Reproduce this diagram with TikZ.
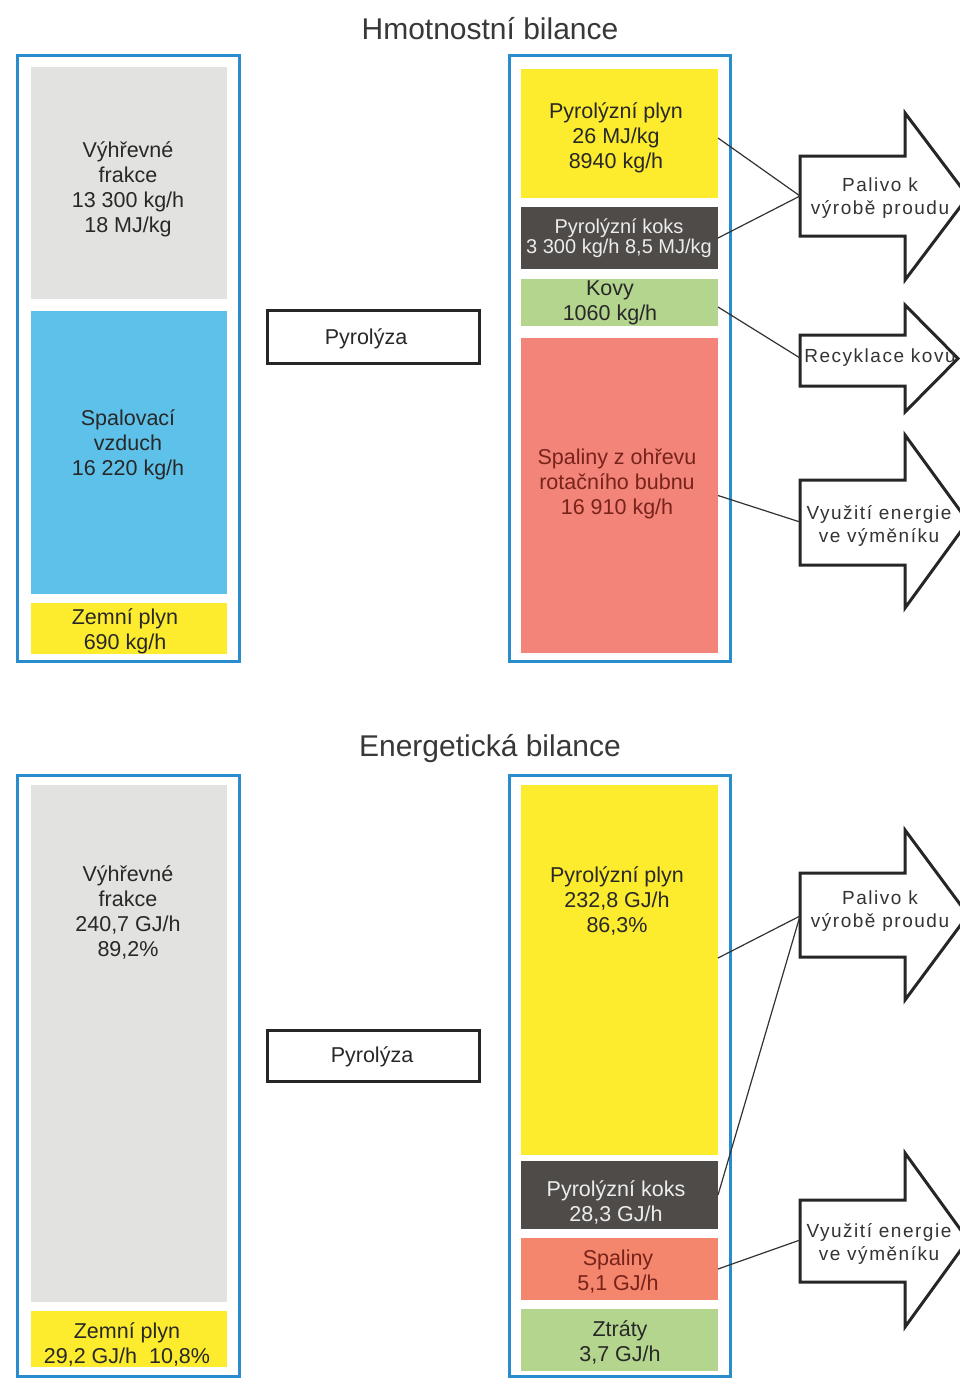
\documentclass[tikz,border=0pt]{standalone}
\usepackage{fontspec}
\setmainfont{Liberation Sans}
\newfontfamily\arrfont[LetterSpace=8]{Liberation Sans}
\usetikzlibrary{fit}
\definecolor{cframe}{RGB}{40,140,205}
\definecolor{cgray}{RGB}{226,226,224}
\definecolor{cblue}{RGB}{94,193,234}
\definecolor{cyel}{RGB}{253,235,45}
\definecolor{cdark}{RGB}{79,75,72}
\definecolor{cgreen}{RGB}{180,213,142}
\definecolor{cred}{RGB}{242,132,122}
\definecolor{cred2}{RGB}{243,134,108}
\definecolor{ctext}{RGB}{40,40,40}
\definecolor{credt}{RGB}{120,35,25}
\definecolor{clight}{RGB}{236,236,236}
\definecolor{cline}{RGB}{50,50,50}
\tikzset{
  seg/.style={inner sep=0pt, outer sep=0pt, draw=none},
  frame/.style={inner sep=0pt, outer sep=0pt, draw=cframe, line width=3pt},
  procbox/.style={inner sep=0pt, outer sep=0pt, draw=black!85, line width=3pt, fill=white},
  txt/.style={align=center, inner sep=0pt, text=ctext, font=\fontsize{21.5}{25}\selectfont},
  smalltxt/.style={align=center, inner sep=0pt, font=\fontsize{20}{20}\selectfont},
  title/.style={inner sep=0pt, text=black!78, font=\fontsize{30}{35}\selectfont},
  arr/.style={draw=black!85, line width=3pt, fill=white, line join=miter},
  arrtxt/.style={align=center, inner sep=0pt, text=black!80, font=\arrfont\fontsize{19}{23}\selectfont},
  conn/.style={draw=cline, line width=1.2pt}
}
\begin{document}
\begin{tikzpicture}[x=1pt,y=-1pt]
\useasboundingbox (0,0) rectangle (960,1378);
\clip (0,0) rectangle (960,1378);
\fill[white] (0,0) rectangle (960,1378);

% ---------- Hmotnostni bilance ----------
\node[title] (t1) at (490,29) {Hmotnostní bilance};

\node[frame, fit={(17,56) (239,661)}] (fl1) {};
\node[seg, fill=cgray, fit={(31,67) (227,299)}] (mg) {};
\node[seg, fill=cblue, fit={(31,311) (227,594)}] (mb) {};
\node[seg, fill=cyel, fit={(31,603) (227,654)}] (my) {};
\node[txt] (tmg) at (128,189) {Výhřevné\\frakce\\13 300 kg/h\\18 MJ/kg};
\node[txt] (tmb) at (128,445) {Spalovací\\vzduch\\16 220 kg/h};
\node[txt] (tmy) at (125,631) {Zemní plyn\\690 kg/h};

\node[procbox, fit={(267,310) (479,363)}] (pb1) {};
\node[txt] (tpb1) at (366,339) {Pyrolýza};

\node[frame, fit={(509,56) (730,661)}] (fr1) {};
\node[seg, fill=cyel, fit={(521,69) (718,198)}] (py) {};
\node[seg, fill=cdark, fit={(521,207) (718,269)}] (pk) {};
\node[seg, fill=cgreen, fit={(521,279) (718,326)}] (pg) {};
\node[seg, fill=cred, fit={(521,338) (718,653)}] (pr) {};
\node[txt] (tpy) at (616,138) {Pyrolýzní plyn\\26 MJ/kg\\8940 kg/h};
\node[smalltxt, text=clight] (tpk) at (619,238) {Pyrolýzní koks\\3 300 kg/h 8,5 MJ/kg};
\node[txt] (tpg) at (610,303) {Kovy\\1060 kg/h};
\node[txt, text=credt] (tpr) at (617,484) {Spaliny z ohřevu\\rotačního bubnu\\16 910 kg/h};

% arrows (top)
\draw[arr] (800,156) -- (905,156) -- (905,113) -- (968,196.5) -- (905,280) -- (905,236) -- (800,236) -- cycle;
\coordinate (a1in) at (800,196);
\node[arrtxt] (ta1) at (880,198) {Palivo k\\výrobě proudu};

\draw[arr] (800,335) -- (905,335) -- (905,305) -- (958,358.5) -- (905,412) -- (905,386) -- (800,386) -- cycle;
\coordinate (a2in) at (800,358);
\node[arrtxt] (ta2) at (880,358) {Recyklace kovu};

\draw[arr] (800,480) -- (905,480) -- (905,435) -- (968,521.5) -- (905,608) -- (905,565) -- (800,565) -- cycle;
\coordinate (a3in) at (800,522);
\node[arrtxt] (ta3) at (879,526) {Využití energie\\ve výměníku};

\draw[conn] ([yshift=-4.5pt]py.east) -- (a1in);
\draw[conn] (pk.east) -- (a1in);
\draw[conn] ([yshift=-4.5pt]pg.east) -- (a2in);
\draw[conn] (pr.east) -- (a3in);

% ---------- Energeticka bilance ----------
\node[title] (t2) at (490,749) {Energetická bilance};

\node[frame, fit={(17,775) (239,1376)}] (fl2) {};
\node[seg, fill=cgray, fit={(31,785) (227,1302)}] (eg) {};
\node[seg, fill=cyel, fit={(31,1311) (227,1367)}] (ey) {};
\node[txt] (teg) at (128,912) {Výhřevné\\frakce\\240,7 GJ/h\\89,2\%};
\node[txt] (tey) at (127,1344) {Zemní plyn\\29,2 GJ/h\ \ 10,8\%};

\node[procbox, fit={(267,1030) (479,1081)}] (pb2) {};
\node[txt] (tpb2) at (372,1057) {Pyrolýza};

\node[frame, fit={(509,775) (730,1376)}] (fr2) {};
\node[seg, fill=cyel, fit={(521,785) (718,1155)}] (ep) {};
\node[seg, fill=cdark, fit={(521,1161) (718,1229)}] (ek) {};
\node[seg, fill=cred2, fit={(521,1238) (718,1300)}] (es) {};
\node[seg, fill=cgreen, fit={(521,1309) (718,1371)}] (ez) {};
\node[txt] (tep) at (617,901) {Pyrolýzní plyn\\232,8 GJ/h\\86,3\%};
\node[txt, text=clight] (tek) at (616,1202) {Pyrolýzní koks\\28,3 GJ/h};
\node[txt, text=credt] (tes) at (618,1272) {Spaliny\\5,1 GJ/h};
\node[txt] (tez) at (620,1342) {Ztráty\\3,7 GJ/h};

\draw[arr] (800,873) -- (905,873) -- (905,830) -- (968,915) -- (905,1000) -- (905,957) -- (800,957) -- cycle;
\coordinate (b1in) at (800,916);
\node[arrtxt] (tb1) at (880,911) {Palivo k\\výrobě proudu};

\draw[arr] (800,1200) -- (905,1200) -- (905,1153) -- (968,1240) -- (905,1327) -- (905,1282) -- (800,1282) -- cycle;
\coordinate (b2in) at (800,1240);
\node[arrtxt] (tb2) at (879,1244) {Využití energie\\ve výměníku};

\draw[conn] ([yshift=12pt]ep.east) -- (b1in);
\draw[conn] (ek.east) -- (b1in);
\draw[conn] (es.east) -- (b2in);
\end{tikzpicture}
\end{document}
